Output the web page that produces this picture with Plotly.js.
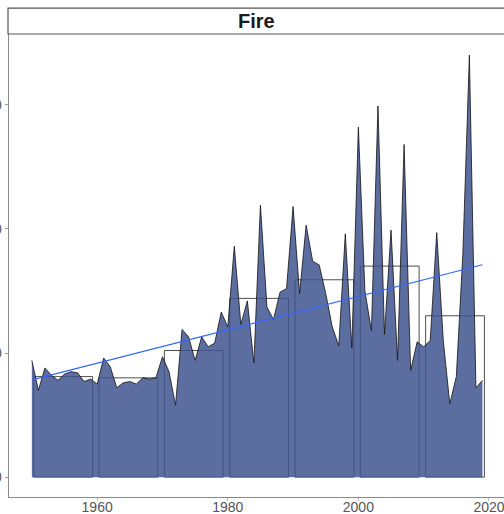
<!DOCTYPE html>
<html>
<head>
<meta charset="utf-8">
<script src="https://cdn.plot.ly/plotly-3.0.1.min.js"></script>
<style>html,body{margin:0;padding:0;background:#fff;}#chart{width:504px;height:514px;}</style>
</head>
<body>
<div id="chart"></div>
<script>
var years = [1950,1951,1952,1953,1954,1955,1956,1957,1958,1959,
             1960,1961,1962,1963,1964,1965,1966,1967,1968,1969,
             1970,1971,1972,1973,1974,1975,1976,1977,1978,1979,
             1980,1981,1982,1983,1984,1985,1986,1987,1988,1989,
             1990,1991,1992,1993,1994,1995,1996,1997,1998,1999,
             2000,2001,2002,2003,2004,2005,2006,2007,2008,2009,
             2010,2011,2012,2013,2014,2015,2016,2017,2018,2019];
var values = [94,70,88,82,78,83,85,84,77,79,
              75,96,89,72,76,77,75,80,79,80,
              97,85,58,119,113,94,113,105,108,133,
              121,186,123,142,92,219,137,127,149,152,
              218,148,203,174,171,148,121,106,196,104,
              282,150,118,299,115,199,94,268,86,109,
              105,110,197,110,59,81,180,340,72,78];
var decades = [1950,1960,1970,1980,1990,2000,2010];
var decadeMeans = [81,80,102,144,159,170,130];
var xTicks = [1960,1980,2000,2020];
var yTicks = [0,100,200,300];
var panelTitle = "Fire";

// linear trend (least squares) from the yearly values
var n = years.length, mx = 0, my = 0;
for (var i = 0; i < n; i++) { mx += years[i]; my += values[i]; }
mx /= n; my /= n;
var sxy = 0, sxx = 0;
for (var i = 0; i < n; i++) { sxy += (years[i]-mx)*(values[i]-my); sxx += (years[i]-mx)*(years[i]-mx); }
var slope = sxy/sxx, icpt = my - slope*mx;
var trendX = [years[0], years[n-1]];
var trendY = trendX.map(function(x){ return icpt + slope*x; });

var traces = [
  {
    type: 'bar', x: decades.map(function(d){return d+4.8;}), y: decadeMeans, width: 9,
    marker: {color: 'rgba(0,0,0,0)', line: {color: '#222', width: 0.8}},
    hoverinfo: 'skip', showlegend: false
  },
  {
    type: 'scatter', mode: 'lines', x: years, y: values, fill: 'tozeroy',
    fillcolor: 'rgba(64,85,142,0.85)', line: {color: '#111', width: 0.8},
    showlegend: false
  },
  {
    type: 'scatter', mode: 'lines', x: trendX, y: trendY,
    line: {color: '#3366FF', width: 1.2}, showlegend: false
  }
];

var layout = {
  width: 504, height: 514,
  margin: {l: 9, r: 0, t: 34, b: 17, pad: 0},
  paper_bgcolor: '#fff', plot_bgcolor: '#fff',
  font: {family: 'Liberation Sans, Arial, sans-serif', size: 14, color: '#555'},
  showlegend: false,
  bargap: 0,
  xaxis: {
    range: [1946.5, 2022.3], tickvals: xTicks, ticktext: xTicks.map(String),
    showgrid: false, zeroline: false, showline: true, linecolor: '#8a8a8a', linewidth: 1.3,
    ticks: 'outside', ticklen: 3, tickcolor: '#bbb', tickwidth: 1, ticklabelstandoff: -6,
    ticklabeloverflow: 'allow',
    tickfont: {size: 14, color: '#555'}, fixedrange: true
  },
  yaxis: {
    range: [-16, 357], tickvals: yTicks, ticktext: yTicks.map(String),
    showgrid: false, zeroline: false, showline: true, linecolor: '#8a8a8a', linewidth: 1.3,
    ticks: 'outside', ticklen: 3, tickcolor: '#999', tickwidth: 1,
    ticklabeloverflow: 'allow',
    tickfont: {size: 14, color: '#555'}, fixedrange: true
  },
  shapes: [
    {type: 'rect', xref: 'paper', yref: 'paper', x0: -0.002, x1: 1.02, y0: 1, y1: 1.056,
     line: {color: '#555', width: 1.2}, fillcolor: '#fff', layer: 'above'}
  ],
  annotations: [
    {text: '<b>' + panelTitle + '</b>', xref: 'paper', yref: 'paper', x: 0.5, y: 1.028,
     showarrow: false, xanchor: 'center', yanchor: 'middle',
     font: {size: 20, color: '#1a1a1a', family: 'Liberation Sans, Arial, sans-serif'}}
  ]
};

Plotly.newPlot('chart', traces, layout, {displayModeBar: false, staticPlot: true});
</script>
</body>
</html>
